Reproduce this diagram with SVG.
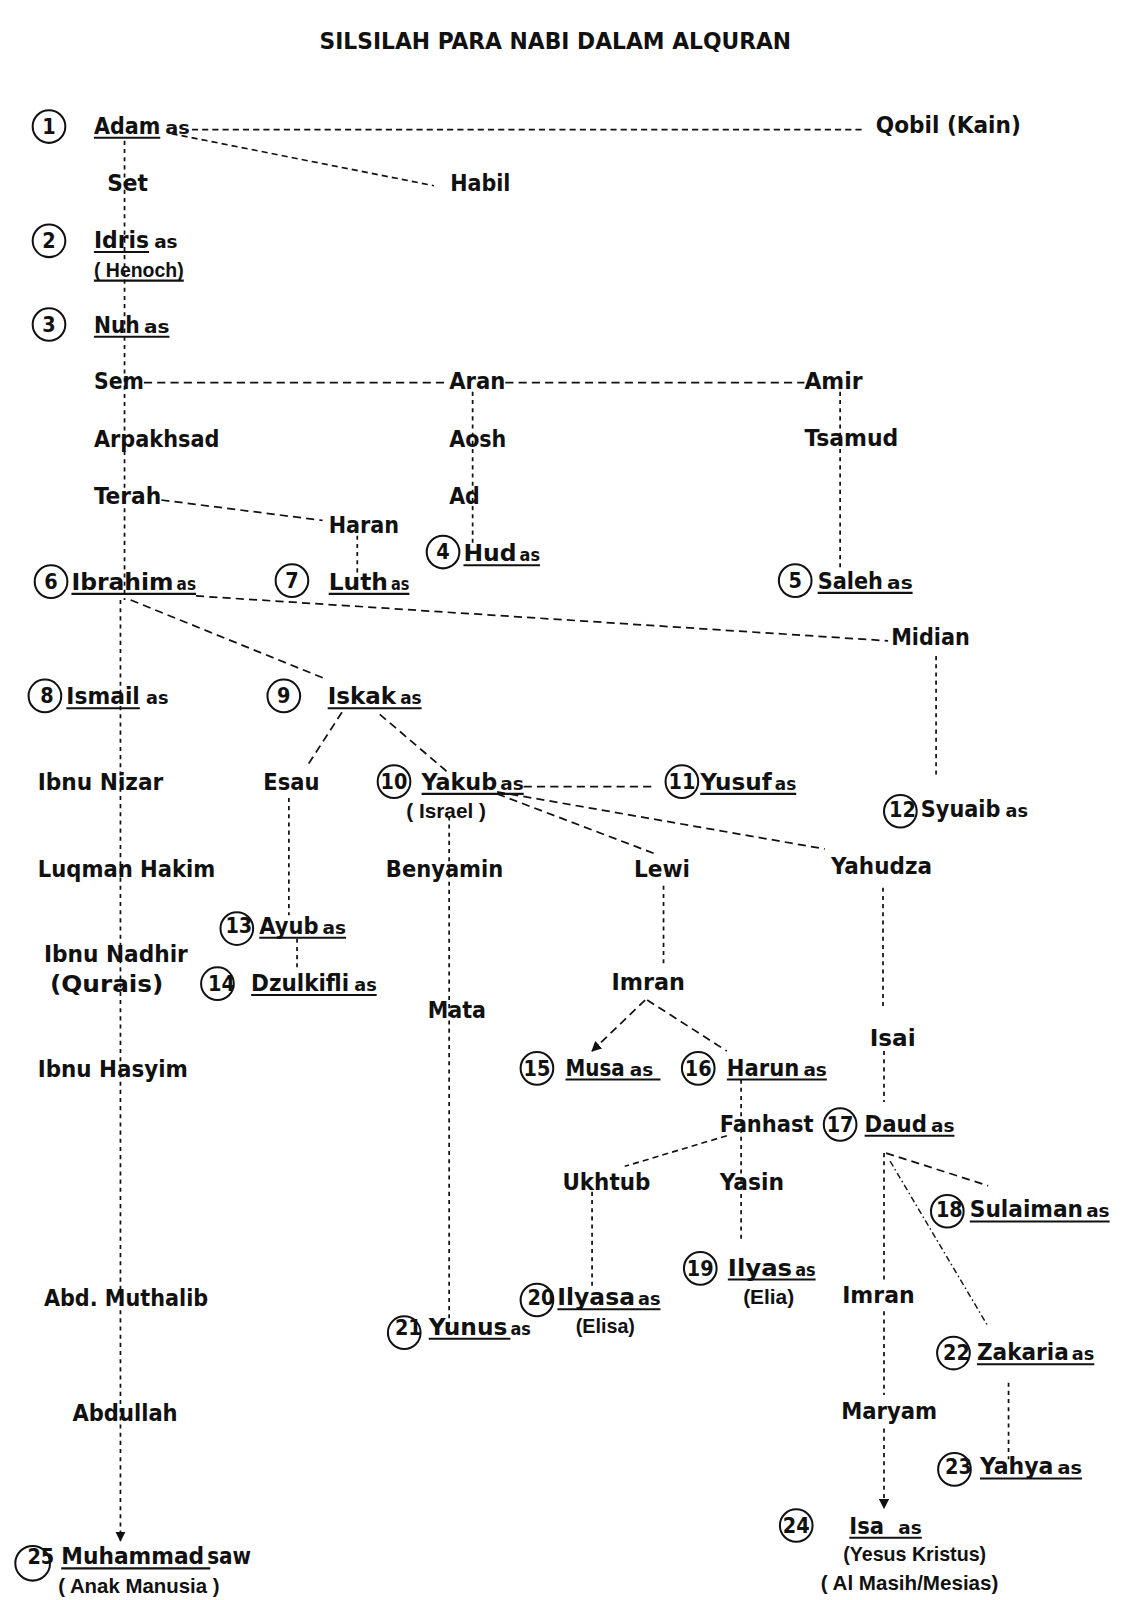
<svg xmlns="http://www.w3.org/2000/svg" width="1128" height="1600" viewBox="0 0 1128 1600">
<defs>
<style>
text{font-family:"DejaVu Sans Condensed","DejaVu Sans",sans-serif;font-weight:bold;font-size:23px;fill:#111}
.s{font-size:17.5px}
.n{font-size:21px;text-anchor:middle}
.p{font-family:"Liberation Sans",Arial,sans-serif;font-size:19.5px}
.ttl{font-size:23px}
.c{fill:none;stroke:#111;stroke-width:2}
.u{stroke:#111;stroke-width:2}
.d{fill:none;stroke:#111;stroke-width:1.7;stroke-dasharray:8 5}
.f{fill:none;stroke:#111;stroke-width:1.6;stroke-dasharray:6 4}
.v{fill:none;stroke:#111;stroke-width:1.7;stroke-dasharray:4 4}
.dd{fill:none;stroke:#111;stroke-width:1.4;stroke-dasharray:6 3 1.5 3}
</style>
<marker id="ah" viewBox="0 0 10 10" refX="9" refY="5" markerWidth="10" markerHeight="10" markerUnits="userSpaceOnUse" orient="auto"><path d="M0,0 L10,5 L0,10 z" fill="#111"/></marker>
</defs>
<rect width="1128" height="1600" fill="#fff"/>
<g transform="scale(1.02081,1.02041)">
<text id="title" class="ttl" x="313" y="48" textLength="462" lengthAdjust="spacingAndGlyphs">SILSILAH PARA NABI DALAM ALQURAN</text>

<g id="connectors">
<line class="f" x1="188" y1="127" x2="845" y2="127"/>
<line class="f" x1="168" y1="131" x2="425" y2="182"/>
<line class="v" x1="122" y1="138" x2="122" y2="588"/>
<line class="v" x1="118" y1="588" x2="118" y2="1510" marker-end="url(#ah)"/>
<line class="d" x1="141" y1="375" x2="440" y2="375"/>
<line class="d" x1="495" y1="375" x2="788" y2="375"/>
<line class="v" x1="463" y1="384" x2="463" y2="532"/>
<line class="v" x1="823" y1="384" x2="823" y2="556"/>
<line class="d" x1="158" y1="490" x2="316" y2="510"/>
<line class="v" x1="350" y1="525" x2="350" y2="562"/>
<line class="d" x1="192" y1="584" x2="870" y2="628"/>
<line class="d" x1="128" y1="588" x2="318" y2="665"/>
<line class="d" x1="335" y1="698" x2="300" y2="752"/>
<line class="d" x1="372" y1="700" x2="440" y2="758"/>
<line class="d" x1="513" y1="771" x2="640" y2="771"/>
<line class="d" x1="487" y1="778" x2="645" y2="838"/>
<line class="d" x1="487" y1="776" x2="808" y2="832"/>
<line class="v" x1="917" y1="643" x2="917" y2="760"/>
<line class="v" x1="283" y1="782" x2="283" y2="897"/>
<line class="v" x1="291" y1="920" x2="291" y2="950"/>
<line class="v" x1="440" y1="800" x2="440" y2="1300"/>
<line class="v" x1="650" y1="868" x2="650" y2="945"/>
<line class="d" x1="632" y1="980" x2="580" y2="1030" marker-end="url(#ah)"/>
<line class="d" x1="634" y1="980" x2="712" y2="1030"/>
<line class="v" x1="865" y1="870" x2="865" y2="990"/>
<line class="v" x1="866" y1="1030" x2="866" y2="1080"/>
<line class="v" x1="726" y1="1058" x2="726" y2="1215"/>
<line class="f" x1="712" y1="1113" x2="612" y2="1143"/>
<line class="v" x1="580" y1="1168" x2="580" y2="1262"/>
<line class="d" x1="868" y1="1130" x2="968" y2="1162"/>
<line class="v" x1="866" y1="1130" x2="866" y2="1258"/>
<line class="dd" x1="872" y1="1138" x2="968" y2="1300"/>
<line class="v" x1="866" y1="1285" x2="866" y2="1367"/>
<line class="v" x1="866" y1="1400" x2="866" y2="1478" marker-end="url(#ah)"/>
<line class="v" x1="988" y1="1355" x2="988" y2="1430"/>
</g>

<g id="n1"><circle class="c" cx="48" cy="124" r="16"/><text class="n" x="48" y="131">1</text>
<text x="92" y="131" textLength="65" lengthAdjust="spacingAndGlyphs">Adam</text><text class="s" x="162" y="131" textLength="24" lengthAdjust="spacingAndGlyphs">as</text><line class="u" x1="92" y1="135" x2="157" y2="135"/></g>
<g id="qobil"><text x="858" y="130" textLength="142" lengthAdjust="spacingAndGlyphs">Qobil (Kain)</text></g>
<g id="habil"><text x="441" y="187" textLength="59" lengthAdjust="spacingAndGlyphs">Habil</text></g>
<g id="set"><text x="105" y="187" textLength="40" lengthAdjust="spacingAndGlyphs">Set</text></g>
<g id="n2"><circle class="c" cx="48" cy="236" r="16"/><text class="n" x="48" y="243">2</text>
<text x="92" y="243" textLength="54" lengthAdjust="spacingAndGlyphs">Idris</text><text class="s" x="151" y="243" textLength="23" lengthAdjust="spacingAndGlyphs">as</text><line class="u" x1="92" y1="247" x2="146" y2="247"/>
<text class="p" x="92" y="271" textLength="88" lengthAdjust="spacingAndGlyphs">( Henoch)</text><line class="u" x1="92" y1="275" x2="180" y2="275"/></g>
<g id="n3"><circle class="c" cx="48" cy="318" r="16"/><text class="n" x="48" y="325">3</text>
<text x="92" y="326" textLength="45" lengthAdjust="spacingAndGlyphs">Nuh</text><text class="s" x="141" y="326" textLength="25" lengthAdjust="spacingAndGlyphs">as</text><line class="u" x1="92" y1="330" x2="166" y2="330"/></g>
<g id="sem"><text x="92" y="381" textLength="49" lengthAdjust="spacingAndGlyphs">Sem</text></g>
<g id="aran"><text x="440" y="381" textLength="55" lengthAdjust="spacingAndGlyphs">Aran</text></g>
<g id="amir"><text x="788" y="381" textLength="57" lengthAdjust="spacingAndGlyphs">Amir</text></g>
<g id="arpakhsad"><text x="92" y="438" textLength="123" lengthAdjust="spacingAndGlyphs">Arpakhsad</text></g>
<g id="aosh"><text x="440" y="438" textLength="56" lengthAdjust="spacingAndGlyphs">Aosh</text></g>
<g id="tsamud"><text x="788" y="437" textLength="92" lengthAdjust="spacingAndGlyphs">Tsamud</text></g>
<g id="terah"><text x="92" y="494" textLength="66" lengthAdjust="spacingAndGlyphs">Terah</text></g>
<g id="ad"><text x="440" y="494" textLength="30" lengthAdjust="spacingAndGlyphs">Ad</text></g>
<g id="haran"><text x="322" y="522" textLength="69" lengthAdjust="spacingAndGlyphs">Haran</text></g>
<g id="n4"><circle class="c" cx="434" cy="541" r="16"/><text class="n" x="434" y="548">4</text>
<text x="454" y="550" textLength="52" lengthAdjust="spacingAndGlyphs">Hud</text><text class="s" x="509" y="550" textLength="20" lengthAdjust="spacingAndGlyphs">as</text><line class="u" x1="454" y1="554" x2="529" y2="554"/></g>
<g id="n6"><circle class="c" cx="50" cy="570" r="16"/><text class="n" x="50" y="577">6</text>
<text x="70" y="578" textLength="100" lengthAdjust="spacingAndGlyphs">Ibrahim</text><text class="s" x="173" y="578" textLength="19" lengthAdjust="spacingAndGlyphs">as</text><line class="u" x1="70" y1="582" x2="192" y2="582"/></g>
<g id="n7"><circle class="c" cx="286" cy="569" r="16"/><text class="n" x="286" y="576">7</text>
<text x="322" y="578" textLength="58" lengthAdjust="spacingAndGlyphs">Luth</text><text class="s" x="383" y="578" textLength="18" lengthAdjust="spacingAndGlyphs">as</text><line class="u" x1="322" y1="582" x2="401" y2="582"/></g>
<g id="n5"><circle class="c" cx="779" cy="569" r="16"/><text class="n" x="779" y="576">5</text>
<text x="801" y="577" textLength="64" lengthAdjust="spacingAndGlyphs">Saleh</text><text class="s" x="869" y="577" textLength="25" lengthAdjust="spacingAndGlyphs">as</text><line class="u" x1="801" y1="581" x2="894" y2="581"/></g>
<g id="midian"><text x="873" y="632" textLength="77" lengthAdjust="spacingAndGlyphs">Midian</text></g>
<g id="n8"><circle class="c" cx="44" cy="682" r="16"/><text class="n" x="46" y="689">8</text>
<text x="65" y="690" textLength="72" lengthAdjust="spacingAndGlyphs">Ismail</text><text class="s" x="143" y="690" textLength="22" lengthAdjust="spacingAndGlyphs">as</text><line class="u" x1="65" y1="694" x2="137" y2="694"/></g>
<g id="n9"><circle class="c" cx="278" cy="682" r="16"/><text class="n" x="278" y="689">9</text>
<text x="321" y="690" textLength="67" lengthAdjust="spacingAndGlyphs">Iskak</text><text class="s" x="392" y="690" textLength="21" lengthAdjust="spacingAndGlyphs">as</text><line class="u" x1="321" y1="694" x2="413" y2="694"/></g>
<g id="ibnunizar"><text x="37" y="774" textLength="123" lengthAdjust="spacingAndGlyphs">Ibnu Nizar</text></g>
<g id="esau"><text x="258" y="774" textLength="55" lengthAdjust="spacingAndGlyphs">Esau</text></g>
<g id="n10"><circle class="c" cx="386" cy="766" r="16"/><text class="n" x="386" y="773">10</text>
<text x="413" y="774" textLength="74" lengthAdjust="spacingAndGlyphs">Yakub</text><text class="s" x="490" y="774" textLength="23" lengthAdjust="spacingAndGlyphs">as</text><line class="u" x1="413" y1="778" x2="513" y2="778"/>
<text class="p" x="398" y="802" textLength="78" lengthAdjust="spacingAndGlyphs">( Israel )</text></g>
<g id="n11"><circle class="c" cx="668" cy="766" r="16"/><text class="n" x="668" y="773">11</text>
<text x="686" y="774" textLength="70" lengthAdjust="spacingAndGlyphs">Yusuf</text><text class="s" x="759" y="774" textLength="21" lengthAdjust="spacingAndGlyphs">as</text><line class="u" x1="686" y1="778" x2="780" y2="778"/></g>
<g id="n12"><circle class="c" cx="882" cy="795" r="16"/><text class="n" x="884" y="801">12</text>
<text x="902" y="801" textLength="78" lengthAdjust="spacingAndGlyphs">Syuaib</text><text class="s" x="985" y="801" textLength="22" lengthAdjust="spacingAndGlyphs">as</text></g>
<g id="luqman"><text x="37" y="859" textLength="174" lengthAdjust="spacingAndGlyphs">Luqman Hakim</text></g>
<g id="benyamin"><text x="378" y="859" textLength="115" lengthAdjust="spacingAndGlyphs">Benyamin</text></g>
<g id="lewi"><text x="621" y="859" textLength="55" lengthAdjust="spacingAndGlyphs">Lewi</text></g>
<g id="yahudza"><text x="814" y="857" textLength="99" lengthAdjust="spacingAndGlyphs">Yahudza</text></g>
<g id="n13"><circle class="c" cx="232" cy="910" r="16"/><text class="n" x="234" y="914">13</text>
<text x="254" y="915" textLength="58" lengthAdjust="spacingAndGlyphs">Ayub</text><text class="s" x="316" y="915" textLength="23" lengthAdjust="spacingAndGlyphs">as</text><line class="u" x1="254" y1="919" x2="339" y2="919"/></g>
<g id="ibnunadhir"><text x="43" y="943" textLength="141" lengthAdjust="spacingAndGlyphs">Ibnu Nadhir</text><text x="49" y="972" textLength="111" lengthAdjust="spacingAndGlyphs">(Qurais)</text></g>
<g id="n14"><circle class="c" cx="213" cy="964" r="16"/><text class="n" x="217" y="971">14</text>
<text x="246" y="971" textLength="96" lengthAdjust="spacingAndGlyphs">Dzulkifli</text><text class="s" x="347" y="971" textLength="22" lengthAdjust="spacingAndGlyphs">as</text><line class="u" x1="246" y1="975" x2="369" y2="975"/></g>
<g id="mata"><text x="419" y="998" textLength="57" lengthAdjust="spacingAndGlyphs">Mata</text></g>
<g id="imran1"><text x="599" y="970" textLength="72" lengthAdjust="spacingAndGlyphs">Imran</text></g>
<g id="isai"><text x="852" y="1025" textLength="45" lengthAdjust="spacingAndGlyphs">Isai</text></g>
<g id="n15"><circle class="c" cx="526" cy="1047" r="16"/><text class="n" x="526" y="1054">15</text>
<text x="554" y="1054" textLength="58" lengthAdjust="spacingAndGlyphs">Musa</text><text class="s" x="617" y="1054" textLength="23" lengthAdjust="spacingAndGlyphs">as</text><line class="u" x1="554" y1="1058" x2="647" y2="1058"/></g>
<g id="n16"><circle class="c" cx="684" cy="1047" r="16"/><text class="n" x="684" y="1054">16</text>
<text x="712" y="1054" textLength="71" lengthAdjust="spacingAndGlyphs">Harun</text><text class="s" x="787" y="1054" textLength="23" lengthAdjust="spacingAndGlyphs">as</text><line class="u" x1="712" y1="1058" x2="810" y2="1058"/></g>
<g id="ibnuhasyim"><text x="37" y="1055" textLength="147" lengthAdjust="spacingAndGlyphs">Ibnu Hasyim</text></g>
<g id="fanhast"><text x="705" y="1109" textLength="92" lengthAdjust="spacingAndGlyphs">Fanhast</text></g>
<g id="n17"><circle class="c" cx="823" cy="1102" r="16"/><text class="n" x="823" y="1109">17</text>
<text x="847" y="1109" textLength="61" lengthAdjust="spacingAndGlyphs">Daud</text><text class="s" x="912" y="1109" textLength="23" lengthAdjust="spacingAndGlyphs">as</text><line class="u" x1="847" y1="1113" x2="935" y2="1113"/></g>
<g id="ukhtub"><text x="551" y="1166" textLength="86" lengthAdjust="spacingAndGlyphs">Ukhtub</text></g>
<g id="yasin"><text x="705" y="1166" textLength="63" lengthAdjust="spacingAndGlyphs">Yasin</text></g>
<g id="n18"><circle class="c" cx="928" cy="1187" r="16"/><text class="n" x="930" y="1193">18</text>
<text x="950" y="1193" textLength="111" lengthAdjust="spacingAndGlyphs">Sulaiman</text><text class="s" x="1064" y="1193" textLength="23" lengthAdjust="spacingAndGlyphs">as</text><line class="u" x1="950" y1="1197" x2="1087" y2="1197"/></g>
<g id="n19"><circle class="c" cx="686" cy="1243" r="16"/><text class="n" x="686" y="1250">19</text>
<text x="713" y="1250" textLength="63" lengthAdjust="spacingAndGlyphs">Ilyas</text><text class="s" x="779" y="1250" textLength="20" lengthAdjust="spacingAndGlyphs">as</text><line class="u" x1="713" y1="1254" x2="799" y2="1254"/>
<text class="p" x="728" y="1278" textLength="50" lengthAdjust="spacingAndGlyphs">(Elia)</text></g>
<g id="abdmuthalib"><text x="43" y="1280" textLength="161" lengthAdjust="spacingAndGlyphs">Abd. Muthalib</text></g>
<g id="n20"><circle class="c" cx="526" cy="1274" r="16"/><text class="n" x="530" y="1279">20</text>
<text x="546" y="1279" textLength="76" lengthAdjust="spacingAndGlyphs">Ilyasa</text><text class="s" x="625" y="1279" textLength="22" lengthAdjust="spacingAndGlyphs">as</text><line class="u" x1="546" y1="1283" x2="647" y2="1283"/>
<text class="p" x="564" y="1306" textLength="58" lengthAdjust="spacingAndGlyphs">(Elisa)</text></g>
<g id="imran2"><text x="825" y="1277" textLength="71" lengthAdjust="spacingAndGlyphs">Imran</text></g>
<g id="n21"><circle class="c" cx="396" cy="1306" r="16"/><text class="n" x="400" y="1308">21</text>
<text x="420" y="1308" textLength="77" lengthAdjust="spacingAndGlyphs">Yunus</text><text class="s" x="500" y="1308" textLength="20" lengthAdjust="spacingAndGlyphs">as</text><line class="u" x1="420" y1="1312" x2="500" y2="1312"/></g>
<g id="n22"><circle class="c" cx="934" cy="1326" r="16"/><text class="n" x="937" y="1333">22</text>
<text x="957" y="1333" textLength="90" lengthAdjust="spacingAndGlyphs">Zakaria</text><text class="s" x="1050" y="1333" textLength="22" lengthAdjust="spacingAndGlyphs">as</text><line class="u" x1="957" y1="1337" x2="1072" y2="1337"/></g>
<g id="maryam"><text x="824" y="1391" textLength="94" lengthAdjust="spacingAndGlyphs">Maryam</text></g>
<g id="abdullah"><text x="71" y="1393" textLength="103" lengthAdjust="spacingAndGlyphs">Abdullah</text></g>
<g id="n23"><circle class="c" cx="935" cy="1440" r="16"/><text class="n" x="939" y="1445">23</text>
<text x="960" y="1445" textLength="72" lengthAdjust="spacingAndGlyphs">Yahya</text><text class="s" x="1036" y="1445" textLength="24" lengthAdjust="spacingAndGlyphs">as</text><line class="u" x1="960" y1="1449" x2="1060" y2="1449"/></g>
<g id="n24"><circle class="c" cx="780" cy="1495" r="16"/><text class="n" x="780" y="1502">24</text>
<text x="832" y="1503" textLength="34" lengthAdjust="spacingAndGlyphs">Isa</text><text class="s" x="880" y="1503" textLength="23" lengthAdjust="spacingAndGlyphs">as</text><line class="u" x1="832" y1="1507" x2="903" y2="1507"/>
<text class="p" x="826" y="1530" textLength="140" lengthAdjust="spacingAndGlyphs">(Yesus Kristus)</text>
<text class="p" x="804" y="1558" textLength="174" lengthAdjust="spacingAndGlyphs">( Al Masih/Mesias)</text></g>
<g id="n25"><circle class="c" cx="32" cy="1532" r="17"/><text class="n" x="40" y="1533">25</text>
<text x="60" y="1533" textLength="140" lengthAdjust="spacingAndGlyphs">Muhammad</text><text x="203" y="1533" textLength="43" lengthAdjust="spacingAndGlyphs">saw</text><line class="u" x1="60" y1="1537" x2="206" y2="1537"/>
<text class="p" x="57" y="1561" textLength="158" lengthAdjust="spacingAndGlyphs">( Anak  Manusia )</text></g>
</g>
</svg>
